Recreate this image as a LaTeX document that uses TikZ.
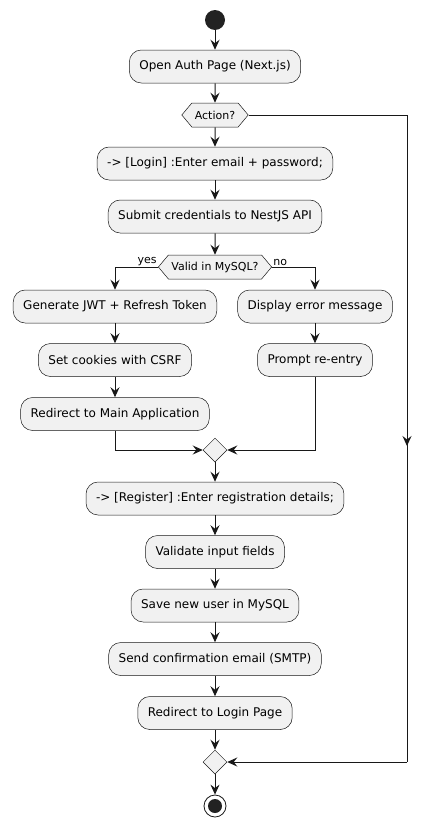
\documentclass[tikz,border=0pt]{standalone}
\usepackage{fontspec}
\setmainfont{DejaVu Sans}
\usetikzlibrary{arrows.meta,positioning,shapes.symbols,shapes.geometric}
\definecolor{umlfill}{HTML}{F1F1F1}
\definecolor{umlline}{HTML}{181818}
\definecolor{umldot}{HTML}{222222}
\tikzset{
  >={Stealth[length=10pt,width=9pt,inset=3.5pt]},
  act/.style={draw=umlline,fill=umlfill,rounded corners=12pt,minimum height=33pt,inner xsep=10pt,line width=0.5pt,font=\fontsize{12}{14}\selectfont},
  cond/.style={draw=umlline,fill=umlfill,signal,signal to=west and east,signal pointer angle=100,minimum height=24pt,inner xsep=3pt,inner ysep=0pt,line width=0.5pt,font=\fontsize{11}{13}\selectfont},
  merge/.style={draw=umlline,fill=umlfill,diamond,minimum size=24pt,inner sep=0pt,line width=0.5pt},
  flow/.style={->,draw=umlline,line width=1pt},
  rail/.style={draw=umlline,line width=1pt},
  lbl/.style={font=\fontsize{11}{13}\selectfont,inner sep=1pt}
}
\begin{document}
\begin{tikzpicture}[x=1pt,y=-1pt]
  \useasboundingbox (0,0) rectangle (432,827);

  % --- start and login path ---
  \node[circle,fill=umldot,minimum size=20pt,inner sep=0pt] (start) at (215,20) {};
  \node[act] (open) at (215,66.5) {Open Auth Page (Next.js)};
  \node[cond] (action) at (215,115) {Action?};
  \node[act] (login) at (215,163.5) {-> [Login] :Enter email + password;};
  \node[act] (submit) at (215,216.5) {Submit credentials to NestJS API};
  \node[cond] (valid) at (215,267) {Valid in MySQL?};

  % --- yes branch ---
  \node[act] (jwt) at (115,306.5) {Generate JWT + Refresh Token};
  \node[act] (cookies) at (115,360) {Set cookies with CSRF};
  \node[act] (redirmain) at (115,414) {Redirect to Main Application};

  % --- no branch ---
  \node[act] (error) at (315,306.5) {Display error message};
  \node[act] (prompt) at (315,360) {Prompt re-entry};

  \node[merge] (merge1) at (215,450) {};

  % --- register path ---
  \node[act] (register) at (215,498.5) {-> [Register] :Enter registration details;};
  \node[act] (validate) at (215,552) {Validate input fields};
  \node[act] (save) at (215,605.5) {Save new user in MySQL};
  \node[act] (mail) at (215,659) {Send confirmation email (SMTP)};
  \node[act] (redirlogin) at (215,713) {Redirect to Login Page};

  \node[merge] (merge2) at (215,762) {};
  \node[circle,draw=umlline,line width=0.8pt,fill=white,minimum size=22pt,inner sep=0pt] (stop) at (215,806) {};
  \node[circle,fill=umldot,minimum size=14pt,inner sep=0pt] (stopdot) at (stop.center) {};

  % --- connections ---
  \draw[flow] (start) -- (open);
  \draw[flow] (open) -- (action);
  \draw[flow] (action) -- (login);
  \draw[flow] (login) -- (submit);
  \draw[flow] (submit) -- (valid);
  \draw[flow] (valid.west) -| (jwt.north) node[lbl,pos=0,anchor=south east] {yes};
  \draw[flow] (valid.east) -| (error.north) node[lbl,pos=0,anchor=south west] {no};
  \draw[flow] (jwt) -- (cookies);
  \draw[flow] (cookies) -- (redirmain);
  \draw[flow] (error) -- (prompt);
  \draw[flow] (redirmain.south) |- (merge1.west);
  \draw[flow] (prompt.south) |- (merge1.east);
  \draw[flow] (merge1) -- (register);
  \draw[flow] (register) -- (validate);
  \draw[flow] (validate) -- (save);
  \draw[flow] (save) -- (mail);
  \draw[flow] (mail) -- (redirlogin);
  \draw[flow] (redirlogin) -- (merge2);
  \draw[flow] (merge2) -- (stop);

  % right rail from Action? to the end merge
  \coordinate (railtop) at (407,115);
  \coordinate (railmid) at (407,446);
  \coordinate (railbot) at (407,762);
  \draw[rail] (action.east) -- (railtop) -- (railbot);
  \draw[flow] (railtop) -- (railmid);
  \draw[flow] (railbot) -- (merge2.east);
\end{tikzpicture}
\end{document}
